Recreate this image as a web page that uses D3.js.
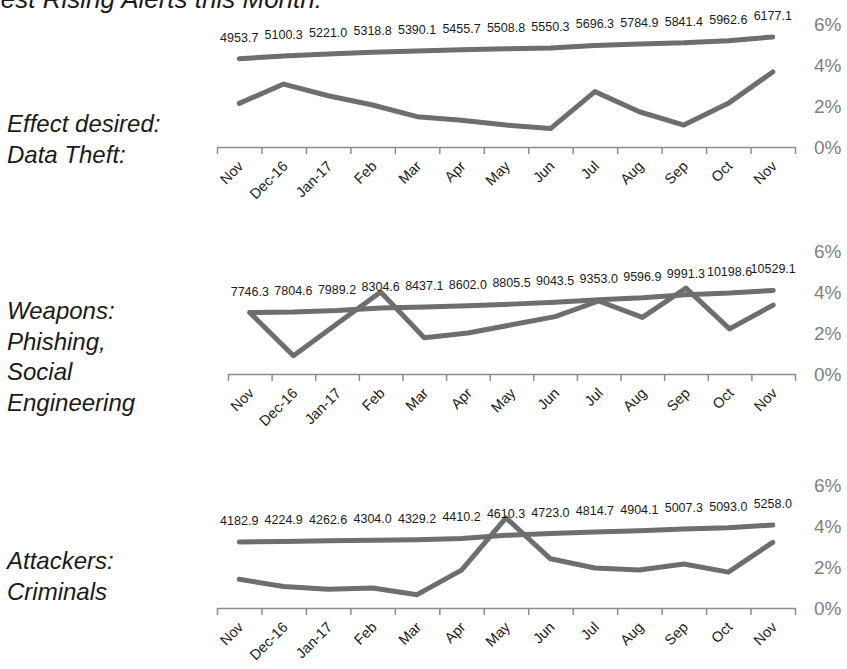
<!DOCTYPE html>
<html>
<head>
<meta charset="utf-8">
<script src="https://cdn.jsdelivr.net/npm/d3@7"></script>
<style>
  body { margin: 0; background: #fff; }
  text { font-family: "Liberation Sans", Arial, sans-serif; }
</style>
</head>
<body>
<svg id="chart" width="847" height="669"></svg>
<script>
const months = ["Nov", "Dec-16", "Jan-17", "Feb", "Mar", "Apr", "May", "Jun", "Jul", "Aug", "Sep", "Oct", "Nov"];
const pctTicks = [0, 0.02, 0.04, 0.06];

// alert volume, the labelled line (hidden axis)
const theftVolume = [4953.7, 5100.3, 5221.0, 5318.8, 5390.1, 5455.7, 5508.8, 5550.3, 5696.3, 5784.9, 5841.4, 5962.6, 6177.1];
const phishVolume = [7746.3, 7804.6, 7989.2, 8304.6, 8437.1, 8602.0, 8805.5, 9043.5, 9353.0, 9596.9, 9991.3, 10198.6, 10529.1];
const criminalVolume = [4182.9, 4224.9, 4262.6, 4304.0, 4329.2, 4410.2, 4610.3, 4723.0, 4814.7, 4904.1, 5007.3, 5093.0, 5258.0];

// monthly rise, right axis
const theftRise = [0.0213, 0.0307, 0.025, 0.0205, 0.0148, 0.0131, 0.0107, 0.009, 0.027, 0.0172, 0.0107, 0.0213, 0.0366];
const phishRise = [0.030, 0.0089, 0.0245, 0.040, 0.0177, 0.020, 0.024, 0.028, 0.0356, 0.0276, 0.0419, 0.022, 0.0336];
const criminalRise = [0.014, 0.0105, 0.0092, 0.0098, 0.0065, 0.0185, 0.044, 0.024, 0.0195, 0.0185, 0.0215, 0.0175, 0.032];

const theftLabel = ["Effect desired:", "Data Theft:"];
const phishLabel = ["Weapons:", "Phishing,", "Social", "Engineering"];
const criminalLabel = ["Attackers:", "Criminals"];

const svg = d3.select("#chart");
const lineColor = "#6e6e6e";

// title, cut off at the top of the picture like the source
svg.append("text")
  .attr("x", 322).attr("y", 8)
  .attr("text-anchor", "end")
  .attr("font-size", 26).attr("font-style", "italic")
  .attr("fill", "#1a1a1a")
  .text("Fastest Rising Alerts this Month:");

const panels = [
  { vol: theftVolume, rise: theftRise, label: theftLabel, left: 217, base: 147, volMax: 6900, labelY: 132 },
  { vol: phishVolume, rise: phishRise, label: phishLabel, left: 228, base: 374, volMax: 15500, labelY: 319 },
  { vol: criminalVolume, rise: criminalRise, label: criminalLabel, left: 217, base: 608, volMax: 7800, labelY: 569 }
];

const right = 795;

panels.forEach(p => {
  const g = svg.append("g");

  const x = d3.scaleBand().domain(d3.range(months.length)).range([p.left, right]);
  const edge = d3.scaleLinear().domain([0, months.length]).range([p.left, right]);
  const y = d3.scaleLinear().domain([0, 0.06]).range([p.base, p.base - 123]);
  const yVol = d3.scaleLinear().domain([0, p.volMax]).range([p.base, p.base - 123]);
  const cx = i => x(i) + x.bandwidth() / 2;

  // x axis, ticks on the category edges
  const ax = g.append("g")
    .attr("transform", `translate(0,${p.base})`)
    .call(d3.axisBottom(edge).tickValues(d3.range(months.length + 1)).tickFormat("").tickSizeInner(7).tickSizeOuter(0));
  ax.select(".domain").attr("stroke", "#8c8c8c").attr("stroke-width", 1.5);
  ax.selectAll(".tick line").attr("stroke", "#8c8c8c").attr("stroke-width", 1.5);

  g.selectAll(".mlab").data(months).join("text")
    .attr("class", "mlab")
    .attr("transform", (d, i) => `translate(${cx(i) + 5},${p.base + 20}) rotate(-45)`)
    .attr("text-anchor", "end")
    .attr("font-size", 14.5)
    .attr("fill", "#1a1a1a")
    .text(d => d);

  // right axis labels
  g.selectAll(".ylab").data(pctTicks).join("text")
    .attr("class", "ylab")
    .attr("x", 814).attr("y", d => y(d))
    .attr("dy", "0.35em")
    .attr("font-family", "'Open Sans', sans-serif")
    .attr("font-size", 19)
    .attr("fill", "#7f7f7f")
    .text(d3.format(".0%"));

  const volLine = d3.line().x((d, i) => cx(i)).y(d => yVol(d));
  const riseLine = d3.line().x((d, i) => cx(i)).y(d => y(d));

  g.append("path").datum(p.vol)
    .attr("d", volLine)
    .attr("fill", "none").attr("stroke", lineColor)
    .attr("stroke-width", 5).attr("stroke-linejoin", "round").attr("stroke-linecap", "round");

  g.append("path").datum(p.rise)
    .attr("d", riseLine)
    .attr("fill", "none").attr("stroke", lineColor)
    .attr("stroke-width", 5).attr("stroke-linejoin", "round").attr("stroke-linecap", "round");

  g.selectAll(".vlab").data(p.vol).join("text")
    .attr("class", "vlab")
    .attr("x", (d, i) => cx(i))
    .attr("y", d => yVol(d) - 17)
    .attr("text-anchor", "middle")
    .attr("font-size", 12.5)
    .attr("fill", "#1a1a1a")
    .text(d => d.toFixed(1));

  g.selectAll(".plab").data(p.label).join("text")
    .attr("class", "plab")
    .attr("x", 7)
    .attr("y", (d, i) => p.labelY + i * 30.5)
    .attr("font-size", 24).attr("font-style", "italic")
    .attr("fill", "#1a1a1a")
    .text(d => d);
});
</script>
</body>
</html>
